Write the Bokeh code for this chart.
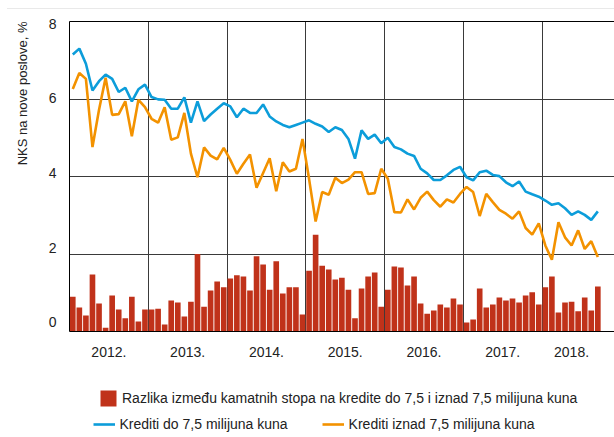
from bokeh.plotting import figure
from bokeh.layouts import column
from bokeh.models import (Range1d, LinearAxis, FixedTicker, Grid, Legend, LegendItem,
                          CustomJSTickFormatter, ColumnDataSource, Title, Div)
from bokeh.embed import file_html
from bokeh.resources import INLINE

# ---------------- data ----------------
years = ["2012.", "2013.", "2014.", "2015.", "2016.", "2017.", "2018."]
y_ticks = [0, 2, 4, 6, 8]

# monthly, Jan 2012 - Sep 2018
kred_do = [7.15, 7.30, 6.91, 6.22, 6.46, 6.63, 6.52, 6.18, 6.29, 5.94, 6.25, 6.37,
           6.05, 5.99, 5.98, 5.75, 5.75, 6.04, 5.39, 5.94, 5.43, 5.60, 5.75, 5.89,
           5.81, 5.53, 5.75, 5.64, 5.64, 5.86, 5.55, 5.42, 5.33, 5.27, 5.33, 5.39,
           5.45, 5.36, 5.29, 5.15, 5.27, 5.20, 4.97, 4.46, 5.19, 4.97, 5.08, 4.86,
           5.00, 4.76, 4.70, 4.59, 4.53, 4.20, 4.08, 3.91, 3.91, 4.03, 4.17, 4.25,
           3.98, 3.90, 4.11, 4.15, 4.04, 4.01, 3.85, 3.75, 3.87, 3.61, 3.54, 3.48,
           3.38, 3.27, 3.31, 3.18, 3.01, 3.10, 3.01, 2.88, 3.10]

kred_iznad = [6.26, 6.67, 6.52, 4.76, 5.72, 6.55, 5.59, 5.61, 5.94, 5.04, 5.98, 5.79,
              5.49, 5.39, 5.79, 4.95, 5.01, 5.64, 4.59, 3.98, 4.75, 4.54, 4.44, 4.74,
              4.43, 4.07, 4.33, 4.57, 3.71, 4.09, 4.47, 3.62, 4.37, 4.13, 4.20, 4.97,
              3.94, 2.84, 3.60, 3.53, 3.97, 3.83, 3.92, 4.11, 4.11, 3.55, 3.57, 4.20,
              3.94, 3.08, 3.07, 3.41, 3.15, 3.45, 3.61, 3.39, 3.22, 3.41, 3.33, 3.55,
              3.73, 3.60, 2.98, 3.55, 3.34, 3.14, 3.04, 2.91, 3.10, 2.67, 2.50, 2.79,
              2.22, 1.85, 2.82, 2.43, 2.22, 2.61, 2.13, 2.33, 1.92]

razlika = [0.90, 0.62, 0.41, 1.47, 0.72, 0.10, 0.93, 0.57, 0.34, 0.90, 0.26, 0.57,
           0.57, 0.59, 0.18, 0.80, 0.75, 0.39, 0.77, 2.00, 0.64, 1.06, 1.29, 1.14,
           1.37, 1.45, 1.42, 1.06, 1.94, 1.73, 1.08, 1.81, 0.98, 1.14, 1.14, 0.44,
           1.57, 2.50, 1.70, 1.60, 1.34, 1.39, 1.08, 0.34, 1.11, 1.42, 1.52, 0.64,
           1.08, 1.68, 1.65, 1.19, 1.42, 0.72, 0.46, 0.54, 0.70, 0.62, 0.85, 0.70,
           0.23, 0.31, 1.11, 0.62, 0.70, 0.88, 0.80, 0.85, 0.75, 0.93, 1.01, 0.70,
           1.14, 1.42, 0.49, 0.75, 0.77, 0.52, 0.88, 0.54, 1.16]

label_bar = "Razlika između kamatnih stopa na kredite do 7,5 i iznad 7,5 milijuna kuna"
label_do = "Krediti do 7,5 milijuna kuna"
label_iznad = "Krediti iznad 7,5 milijuna kuna"
y_title = "NKS na nove poslove, %"

# ---------------- derived positions ----------------
n = len(kred_do)
months = list(range(n))
year_start = [12 * k - 0.5 for k in range(len(years))]
year_end = [min(12 * k + 11.5, n - 0.5) for k in range(len(years))]
year_mid = [(a + b) / 2 for a, b in zip(year_start, year_end)]
boundaries = year_start[1:]

FONT = "Liberation Sans"
TXT = "#222222"
GRID = "#3a3a3a"
BLUE = "#0C9DDA"
ORANGE = "#F39200"
RED = "#C0321A"
W = 614

# ---------------- thin rule on top ----------------
rule = Div(text='<svg width="614" height="8" style="display:block">'
                '<line x1="7" y1="5.5" x2="614" y2="5.5" stroke="#8c8c8c" '
                'stroke-width="1.3"/></svg>',
           width=W, height=8, margin=0)

# ---------------- main chart ----------------
src = ColumnDataSource(dict(x=months, do=kred_do, iznad=kred_iznad, diff=razlika))

p = figure(width=W, height=357, output_backend="svg", toolbar_location=None,
           title=None, x_range=Range1d(-0.5, 82.54), y_range=Range1d(0, 8),
           y_axis_type=None,
           min_border_left=68, min_border_right=0, min_border_top=13, min_border_bottom=34)
p.outline_line_color = None
p.background_fill_color = "white"
p.border_fill_color = "white"

bars = p.vbar(x="x", top="diff", width=0.86, source=src, fill_color=RED, line_color=None)
l_or = p.line(x="x", y="iznad", source=src, line_color=ORANGE, line_width=2.6)
l_bl = p.line(x="x", y="do", source=src, line_color=BLUE, line_width=2.6)

# grids
p.xgrid.ticker = FixedTicker(ticks=boundaries)
p.xgrid.grid_line_color = GRID
p.xgrid.grid_line_width = 1
p.add_layout(Grid(dimension=1, ticker=FixedTicker(ticks=[2, 4, 6]),
                  grid_line_color=GRID, grid_line_width=1))

# x axis (year labels centred in each year)
xa = p.xaxis[0]
xa.ticker = FixedTicker(ticks=year_mid)
xa.formatter = CustomJSTickFormatter(args=dict(pos=year_mid, lab=years), code="""
    let best = 0;
    for (let i = 0; i < pos.length; i++) {
        if (Math.abs(pos[i] - tick) < Math.abs(pos[best] - tick)) best = i;
    }
    return lab[best];
""")
xa.major_tick_out = 0
xa.major_tick_in = 0
xa.minor_tick_out = 0
xa.minor_tick_in = 0
xa.axis_line_color = "black"
xa.major_label_standoff = 15
xa.major_label_text_font = FONT
xa.major_label_text_font_size = "14px"
xa.major_label_text_color = TXT

# y axis labels
p.extra_y_ranges = {"lbl": Range1d(-0.241, 8.054)}
ya = LinearAxis(y_range_name="lbl", ticker=FixedTicker(ticks=y_ticks),
                major_tick_out=0, major_tick_in=0, minor_tick_out=0, minor_tick_in=0,
                axis_line_color="black", major_label_standoff=13,
                major_label_text_font=FONT, major_label_text_font_size="14px",
                major_label_text_color=TXT)
p.add_layout(ya, "left")
p.add_layout(Title(text=y_title, align="right", vertical_align="top",
                   text_font=FONT, text_font_size="13px",
                   text_font_style="normal", text_color=TXT, standoff=28), "left")

# top border
top = LinearAxis(ticker=FixedTicker(ticks=[]), major_tick_out=0, major_tick_in=0,
                 minor_tick_out=0, minor_tick_in=0, axis_line_color="black")
p.add_layout(top, "above")

# ---------------- legend panel ----------------
p_leg = figure(width=W, height=72, output_backend="svg", toolbar_location=None, title=None,
               x_axis_type=None, y_axis_type=None,
               x_range=Range1d(-1000, -999), y_range=Range1d(-1000, -999),
               min_border=0)
p_leg.outline_line_color = None
p_leg.grid.visible = False
g_bar = p_leg.vbar(x="x", top="diff", width=0.86, source=src, fill_color=RED, line_color=None)
g_bl = p_leg.line(x="x", y="do", source=src, line_color=BLUE, line_width=2.6)
g_or = p_leg.line(x="x", y="iznad", source=src, line_color=ORANGE, line_width=2.6)

common = dict(orientation="horizontal", border_line_alpha=0, background_fill_alpha=0,
              label_text_font=FONT, label_text_font_size="14px", label_text_color=TXT,
              margin=0)
leg1 = Legend(items=[LegendItem(label=label_bar, renderers=[g_bar])],
              location=(25, 25), glyph_width=20, glyph_height=20, label_height=20,
              label_standoff=4, padding=4, **common)
leg2 = Legend(items=[LegendItem(label=label_do, renderers=[g_bl]),
                     LegendItem(label=label_iznad, renderers=[g_or])],
              location=(19.5, 1), glyph_width=22, glyph_height=16, label_height=16,
              label_standoff=5, spacing=34, padding=4, **common)
p_leg.add_layout(leg1)
p_leg.add_layout(leg2)

layout = column(rule, p, p_leg, spacing=0)
open("out.html", "w").write(file_html(layout, INLINE))
